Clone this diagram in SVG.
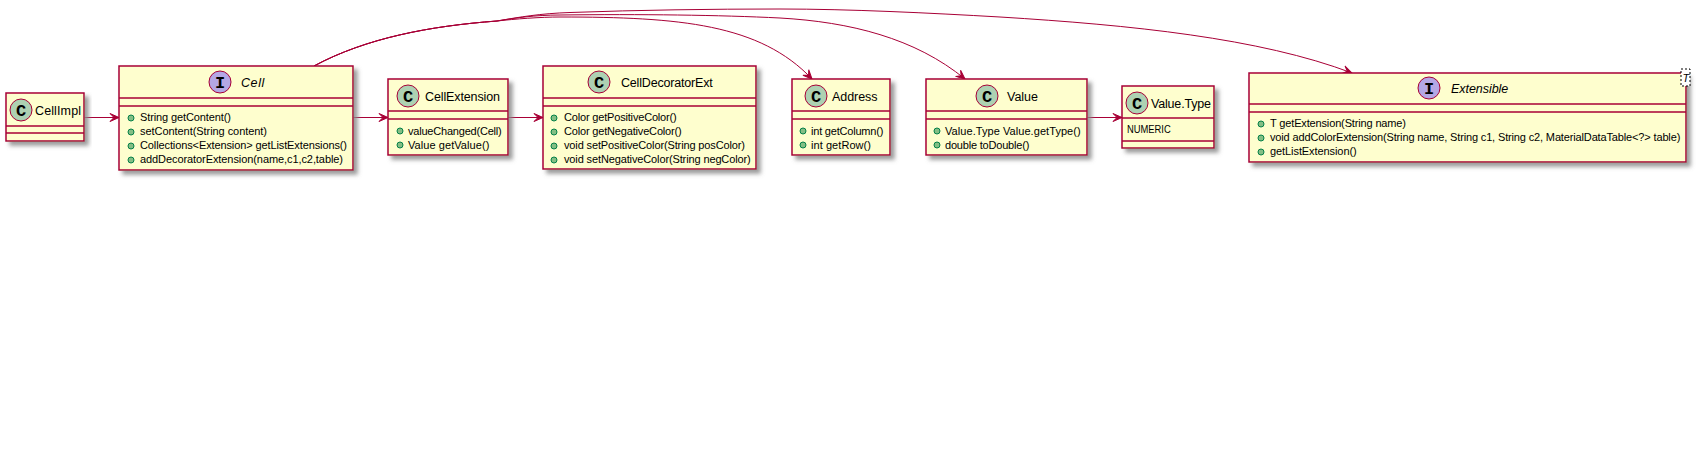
<svg xmlns="http://www.w3.org/2000/svg" width="1699" height="460" viewBox="0 0 1699 460">
<style>
text{font-family:"Liberation Sans",Arial,sans-serif;fill:#000}
.box{fill:#FEFECE;stroke:#A80036;stroke-width:1.5;filter:url(#sh)}
.sep{stroke:#A80036;stroke-width:1.5;fill:none}
.t{font-size:12.5px}
.i{font-style:italic}
.m{font-size:11px}
.spotc{fill:#ADD1B2;stroke:#A80036;stroke-width:1}
.spoti{fill:#B4A7E5;stroke:#A80036;stroke-width:1}
.l{font-family:"Liberation Mono",monospace;font-weight:bold;font-size:17px;text-anchor:middle}
.d{fill:#84BE84;stroke:#038048;stroke-width:1}
.e{fill:none;stroke:#A80036;stroke-width:1}
.a{fill:#A80036;stroke:#A80036;stroke-width:1}
</style>
<defs>
<filter id="sh" x="-10%" y="-10%" width="120%" height="130%">
<feGaussianBlur in="SourceAlpha" stdDeviation="2"/>
<feOffset dx="4" dy="4"/>
<feColorMatrix type="matrix" values="0 0 0 0 0.25 0 0 0 0 0.25 0 0 0 0 0.25 0 0 0 0.85 0"/>
<feMerge><feMergeNode/><feMergeNode in="SourceGraphic"/></feMerge>
</filter>
<marker id="arrow" viewBox="-10 -5 11 10" refX="0" refY="0" markerWidth="11" markerHeight="10" markerUnits="userSpaceOnUse" orient="auto" overflow="visible">
<path class="a" d="M0,0 L-9,-4 L-5,0 L-9,4 Z"/>
</marker>
</defs>
<g id="connectors">
<path class="e" marker-end="url(#arrow)" d="M84,117.500 L119,117.500"/>
<path class="e" marker-end="url(#arrow)" d="M353,117.500 L388,117.500"/>
<path class="e" marker-end="url(#arrow)" d="M508,117.500 L543,117.500"/>
<path class="e" marker-end="url(#arrow)" d="M1087,117.500 L1122,117.500"/>
<path class="e" marker-end="url(#arrow)" d="M314,66 C366,38 430,26 497,21 C515,19 540,17 560,17 C680,17 760,24 812,79"/>
<path class="e" marker-end="url(#arrow)" d="M314,66 C366,38 430,26 497,21 C515,18 535,15 560,15 C640,14 720,15 780,18 C850,22 915,38 965,79"/>
<path class="e" marker-end="url(#arrow)" d="M314,66 C366,38 430,26 497,21 C520,17 540,13.500 570,12.500 C640,10 710,9 780,9 C850,9 930,13 1000,17 C1130,25 1260,38 1352,73"/>
</g>
<g id="CellImpl">
<rect class="box" x="6" y="93" width="78" height="48"/>
<circle class="spotc" cx="21" cy="110" r="11"/><text class="l" x="21" y="115.500">C</text>
<text class="t" x="35" y="115" textLength="46">CellImpl</text>
<path class="sep" d="M6,126H84M6,133H84"/>
</g>
<g id="Cell">
<rect class="box" x="119" y="66" width="234" height="104"/>
<circle class="spoti" cx="220" cy="82" r="11"/><text class="l" x="220" y="87.500">I</text>
<text class="t i" x="241" y="87" textLength="23.300">Cell</text>
<path class="sep" d="M119,98H353M119,106H353"/>
<circle class="d" cx="131" cy="118" r="3"/><text class="m" x="140" y="121" textLength="91">String getContent()</text>
<circle class="d" cx="131" cy="132" r="3"/><text class="m" x="140" y="135" textLength="127">setContent(String content)</text>
<circle class="d" cx="131" cy="146" r="3"/><text class="m" x="140" y="149" textLength="207">Collections&lt;Extension&gt; getListExtensions()</text>
<circle class="d" cx="131" cy="160" r="3"/><text class="m" x="140" y="163" textLength="203">addDecoratorExtension(name,c1,c2,table)</text>
</g>
<g id="CellExtension">
<rect class="box" x="388" y="79" width="120" height="76"/>
<circle class="spotc" cx="408" cy="96" r="11"/><text class="l" x="408" y="101.500">C</text>
<text class="t" x="425" y="101" textLength="75">CellExtension</text>
<path class="sep" d="M388,111H508M388,119H508"/>
<circle class="d" cx="400" cy="131" r="3"/><text class="m" x="408" y="135" textLength="93.700">valueChanged(Cell)</text>
<circle class="d" cx="400" cy="145" r="3"/><text class="m" x="408" y="149" textLength="81.300">Value getValue()</text>
</g>
<g id="CellDecoratorExt">
<rect class="box" x="543" y="66" width="213" height="103"/>
<circle class="spotc" cx="599" cy="82" r="11"/><text class="l" x="599" y="87.500">C</text>
<text class="t" x="621" y="87" textLength="91.700">CellDecoratorExt</text>
<path class="sep" d="M543,98H756M543,106H756"/>
<circle class="d" cx="554" cy="118" r="3"/><text class="m" x="564" y="121" textLength="112.700">Color getPositiveColor()</text>
<circle class="d" cx="554" cy="132" r="3"/><text class="m" x="564" y="135" textLength="117.700">Color getNegativeColor()</text>
<circle class="d" cx="554" cy="146" r="3"/><text class="m" x="564" y="149" textLength="181">void setPositiveColor(String posColor)</text>
<circle class="d" cx="554" cy="160" r="3"/><text class="m" x="564" y="163" textLength="186.700">void setNegativeColor(String negColor)</text>
</g>
<g id="Address">
<rect class="box" x="792" y="79" width="98" height="76"/>
<circle class="spotc" cx="816" cy="96" r="11"/><text class="l" x="816" y="101.500">C</text>
<text class="t" x="832" y="101" textLength="45.500">Address</text>
<path class="sep" d="M792,111H890M792,119H890"/>
<circle class="d" cx="803" cy="131" r="3"/><text class="m" x="811" y="135" textLength="72.300">int getColumn()</text>
<circle class="d" cx="803" cy="145" r="3"/><text class="m" x="811" y="149" textLength="60">int getRow()</text>
</g>
<g id="Value">
<rect class="box" x="926" y="79" width="161" height="76"/>
<circle class="spotc" cx="987" cy="96" r="11"/><text class="l" x="987" y="101.500">C</text>
<text class="t" x="1007" y="101" textLength="31">Value</text>
<path class="sep" d="M926,111H1087M926,119H1087"/>
<circle class="d" cx="937" cy="131" r="3"/><text class="m" x="945" y="135" textLength="135.700">Value.Type Value.getType()</text>
<circle class="d" cx="937" cy="145" r="3"/><text class="m" x="945" y="149" textLength="84.300">double toDouble()</text>
</g>
<g id="ValueType">
<rect class="box" x="1122" y="86" width="92" height="62"/>
<circle class="spotc" cx="1137" cy="103" r="11"/><text class="l" x="1137" y="108.500">C</text>
<text class="t" x="1151" y="108" textLength="60">Value.Type</text>
<path class="sep" d="M1122,118H1214M1122,141H1214"/>
<text class="m" x="1127" y="133" textLength="43.700" lengthAdjust="spacingAndGlyphs">NUMERIC</text>
</g>
<g id="Extensible">
<rect class="box" x="1249" y="73" width="437" height="89"/>
<circle class="spoti" cx="1429" cy="88" r="11"/><text class="l" x="1429" y="93.500">I</text>
<text class="t i" x="1451" y="93" textLength="57.300">Extensible</text>
<path class="sep" d="M1249,104H1686M1249,112H1686"/>
<circle class="d" cx="1261" cy="124" r="3"/><text class="m" x="1270" y="127" textLength="136">T getExtension(String name)</text>
<circle class="d" cx="1261" cy="138" r="3"/><text class="m" x="1270" y="141" textLength="410.300">void addColorExtension(String name, String c1, String c2, MaterialDataTable&lt;?&gt; table)</text>
<circle class="d" cx="1261" cy="152" r="3"/><text class="m" x="1270" y="155" textLength="86.700">getListExtension()</text>
<rect x="1681" y="69" width="9" height="17" fill="#fff" stroke="#000" stroke-width="1" stroke-dasharray="2,2"/>
<text class="m i" x="1682.500" y="82">T</text>
</g>
</svg>
